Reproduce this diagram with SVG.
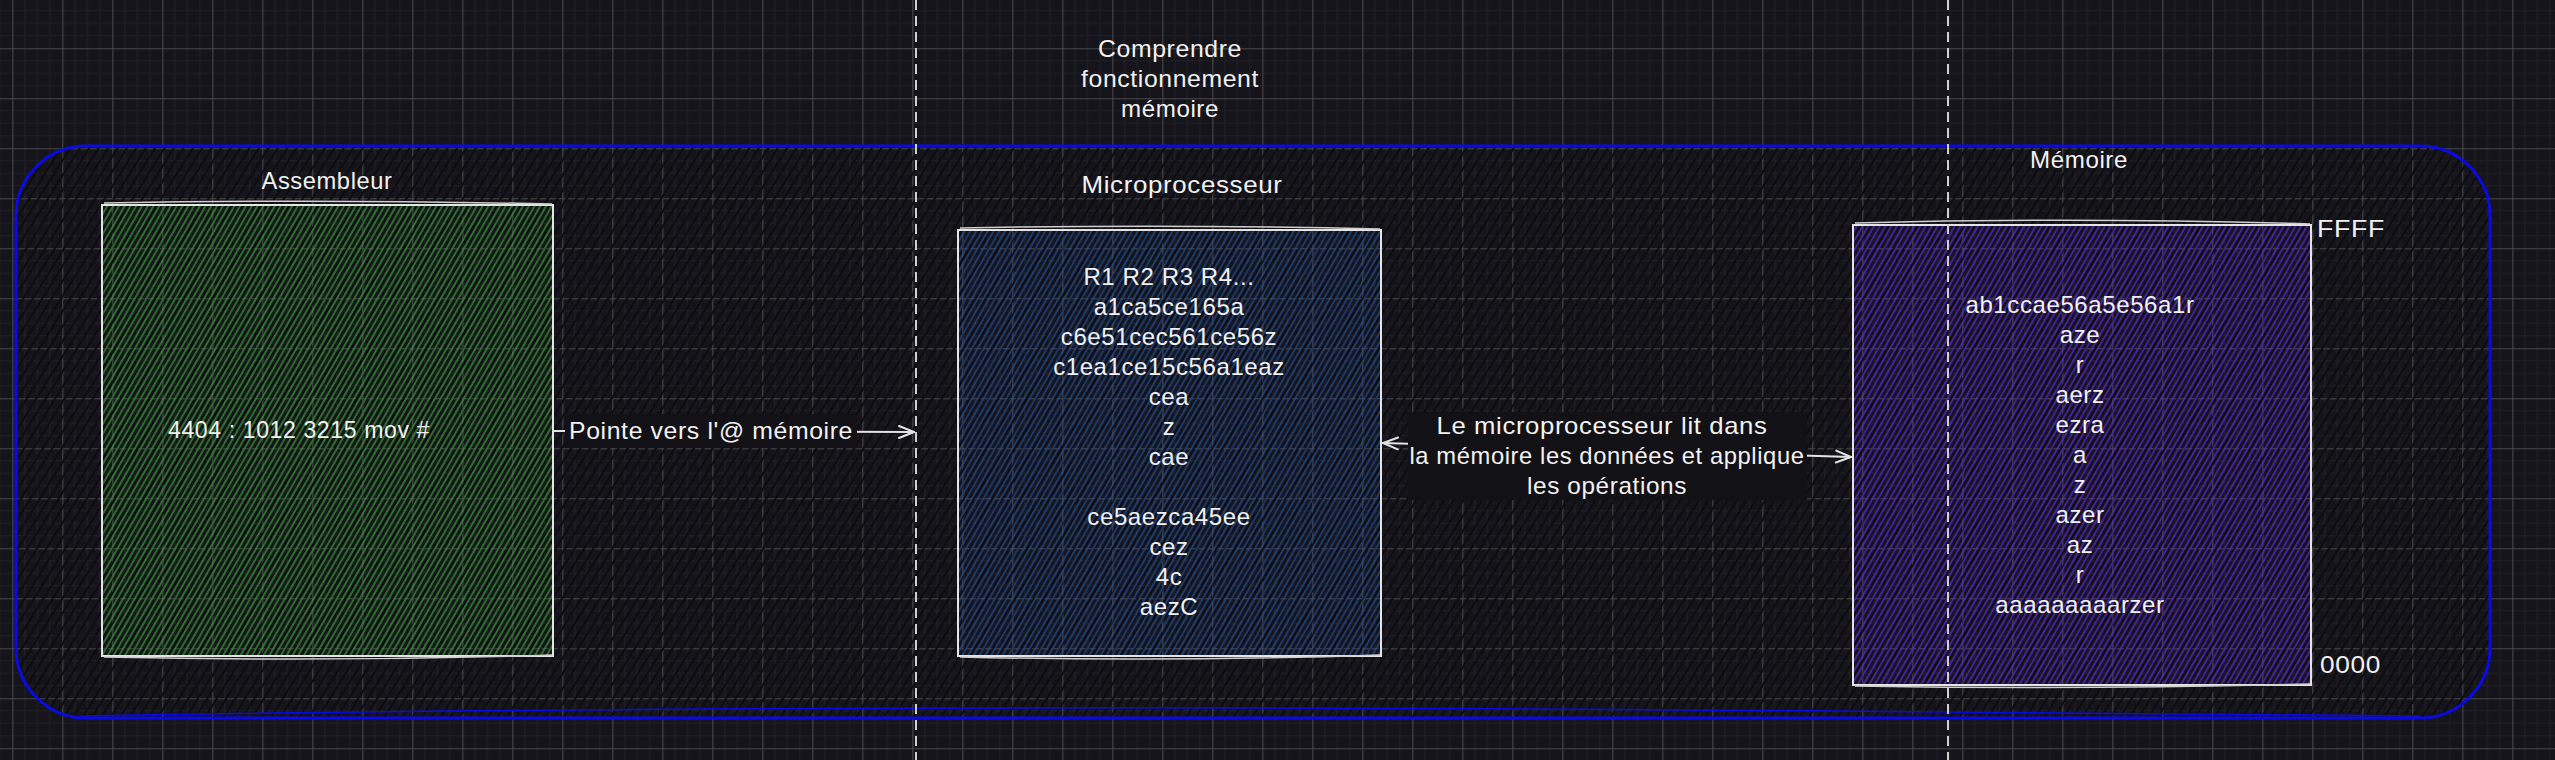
<svg xmlns="http://www.w3.org/2000/svg" width="2555" height="760" viewBox="0 0 2555 760">
<defs>
  <pattern id="grid" x="12.3" y="48.3" width="50" height="50" patternUnits="userSpaceOnUse">
    <path d="M12.5 0V50M25 0V50M37.5 0V50M0 12.5H50M0 25H50M0 37.5H50" stroke="#201f27" stroke-width="1.2" fill="none"/>
    <path d="M0.5 0V50M0 0.5H50" stroke="#48474c" stroke-width="1.2" fill="none"/>
  </pattern>
  <pattern id="hContainer" width="8" height="8" patternUnits="userSpaceOnUse" patternTransform="rotate(32)">
    <line x1="2" y1="0" x2="2" y2="8" stroke="#0d0c11" stroke-width="2.2"/>
  </pattern>
  <pattern id="hGreen" width="5" height="8" patternUnits="userSpaceOnUse" patternTransform="rotate(30)">
    <line x1="1" y1="0" x2="1" y2="8" stroke="#3a9e36" stroke-width="1.3"/>
  </pattern>
  <pattern id="hBlue" width="5" height="8" patternUnits="userSpaceOnUse" patternTransform="rotate(30)">
    <line x1="1" y1="0" x2="1" y2="8" stroke="#1f4f98" stroke-width="1.3"/>
  </pattern>
  <pattern id="hPurple" width="5" height="8" patternUnits="userSpaceOnUse" patternTransform="rotate(30)">
    <line x1="1" y1="0" x2="1" y2="8" stroke="#5a26d2" stroke-width="1.4"/>
  </pattern>
  <marker id="arrow" viewBox="0 0 20 20" refX="18" refY="10" markerWidth="20" markerHeight="20" markerUnits="userSpaceOnUse" orient="auto-start-reverse">
    <path d="M3 4 L18 10 L3 16" fill="none" stroke="#e2e2e2" stroke-width="2" stroke-linecap="round" stroke-linejoin="round"/>
  </marker>
  <style>
    text { font-family: "Liberation Sans", Arial, sans-serif; font-size: 24px; fill: #f2f2f2; letter-spacing: 0.6px; }
    .c { text-anchor: middle; }
    .box { stroke: #e4e4e4; stroke-width: 2; }
    .conn { stroke: #e2e2e2; stroke-width: 2; fill: none; stroke-linecap: round; }
    .divider { stroke: #cfcfcf; stroke-width: 2; stroke-dasharray: 10 6; fill: none; }
    .lblbg { fill: #121115; }
    .sk { fill: none; stroke: #cfcfcf; stroke-width: 1.5; }
  </style>
</defs>

<rect x="0" y="0" width="2555" height="760" fill="#15141a"/>
<rect x="0" y="0" width="2555" height="760" fill="url(#grid)"/>

<g id="container">
  <rect x="16" y="146" width="2474" height="572" rx="70" ry="70" fill="url(#hContainer)" stroke="#0a0ae6" stroke-width="3"/>
  <path d="M80 716 Q900 702 1948 712 Q2300 716 2420 716" fill="none" stroke="#0a0ae6" stroke-width="1.5"/>
</g>

<g id="title">
  <text class="c" x="1170" y="57" textLength="144" lengthAdjust="spacingAndGlyphs">Comprendre</text>
  <text class="c" x="1170" y="87" textLength="178" lengthAdjust="spacingAndGlyphs">fonctionnement</text>
  <text class="c" x="1170" y="117" textLength="98" lengthAdjust="spacingAndGlyphs">mémoire</text>
</g>

<g id="assembleur">
  <rect class="box" x="102" y="205" width="451" height="451" fill="url(#hGreen)"/>
  <path class="sk" d="M104 203 Q330 199 552 204"/>
  <path class="sk" d="M104 657 Q330 662 552 655"/>
  <text class="c" x="327" y="189" textLength="131" lengthAdjust="spacingAndGlyphs">Assembleur</text>
  <text x="168" y="438" textLength="262" lengthAdjust="spacingAndGlyphs">4404 : 1012 3215 mov #</text>
</g>

<g id="microprocesseur">
  <rect class="box" x="958" y="230" width="423" height="426" fill="url(#hBlue)"/>
  <path class="sk" d="M960 228 Q1170 224 1380 229"/>
  <path class="sk" d="M960 657 Q1170 662 1380 655"/>
  <text class="c" x="1182" y="193" textLength="201" lengthAdjust="spacingAndGlyphs">Microprocesseur</text>
  <text class="c" x="1169" y="285">R1 R2 R3 R4...</text>
  <text class="c" x="1169" y="315">a1ca5ce165a</text>
  <text class="c" x="1169" y="345">c6e51cec561ce56z</text>
  <text class="c" x="1169" y="375">c1ea1ce15c56a1eaz</text>
  <text class="c" x="1169" y="405">cea</text>
  <text class="c" x="1169" y="435">z</text>
  <text class="c" x="1169" y="465">cae</text>
  <text class="c" x="1169" y="525">ce5aezca45ee</text>
  <text class="c" x="1169" y="555">cez</text>
  <text class="c" x="1169" y="585">4c</text>
  <text class="c" x="1169" y="615">aezC</text>
</g>

<g id="memoire">
  <rect class="box" x="1853" y="225" width="458" height="460" fill="url(#hPurple)"/>
  <path class="sk" d="M1855 223 Q2080 217 2310 224"/>
  <path class="sk" d="M1855 686 Q2080 690 2310 684"/>
  <text class="c" x="2079" y="168" textLength="98" lengthAdjust="spacingAndGlyphs">Mémoire</text>
  <text class="c" x="2080" y="313">ab1ccae56a5e56a1r</text>
  <text class="c" x="2080" y="343">aze</text>
  <text class="c" x="2080" y="373">r</text>
  <text class="c" x="2080" y="403">aerz</text>
  <text class="c" x="2080" y="433">ezra</text>
  <text class="c" x="2080" y="463">a</text>
  <text class="c" x="2080" y="493">z</text>
  <text class="c" x="2080" y="523">azer</text>
  <text class="c" x="2080" y="553">az</text>
  <text class="c" x="2080" y="583">r</text>
  <text class="c" x="2080" y="613">aaaaaaaaarzer</text>
</g>

<g id="addr-ffff">
  <text x="2317" y="237" textLength="68" lengthAdjust="spacingAndGlyphs">FFFF</text>
</g>
<g id="addr-0000">
  <text x="2320" y="673" textLength="61" lengthAdjust="spacingAndGlyphs">0000</text>
</g>

<g id="dividers">
  <line class="divider" x1="916" y1="0" x2="916" y2="760"/>
  <line class="divider" x1="1948" y1="0" x2="1948" y2="760"/>
</g>

<g id="connectors">
  <path class="conn" d="M553 431 L914 432" marker-end="url(#arrow)"/>
  <rect class="lblbg" x="565" y="414" width="292" height="34"/>
  <text x="569" y="439" textLength="284" lengthAdjust="spacingAndGlyphs">Pointe vers l'@ mémoire</text>

  <path class="conn" d="M1383 443 L1851 457" marker-start="url(#arrow)" marker-end="url(#arrow)"/>
  <rect class="lblbg" x="1408" y="412" width="399" height="88"/>
  <text class="c" x="1602" y="434" textLength="331" lengthAdjust="spacingAndGlyphs">Le microprocesseur lit dans</text>
  <text class="c" x="1607" y="464" textLength="395" lengthAdjust="spacingAndGlyphs">la mémoire les données et applique</text>
  <text class="c" x="1607" y="494" textLength="160" lengthAdjust="spacingAndGlyphs">les opérations</text>
</g>
</svg>
